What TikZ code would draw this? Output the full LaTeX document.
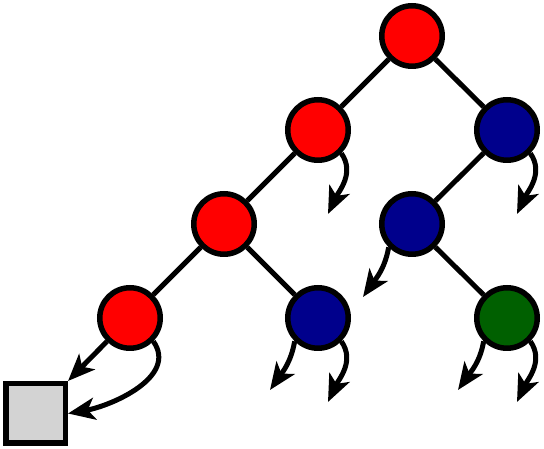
\documentclass[tikz,border=0pt]{standalone}
\usetikzlibrary{arrows.meta}
\definecolor{nred}{RGB}{255,0,0}
\definecolor{nblue}{RGB}{0,0,140}
\definecolor{ngreen}{RGB}{0,96,0}
\definecolor{ngray}{RGB}{211,211,211}
\begin{document}
\begin{tikzpicture}[x=1pt,y=1pt,
  nd/.style={circle,draw=black,line width=5.5pt,minimum size=60.5pt,inner sep=0pt},
  rednode/.style={nd,fill=nred},
  bluenode/.style={nd,fill=nblue},
  greennode/.style={nd,fill=ngreen},
  leaf/.style={rectangle,draw=black,line width=5.5pt,minimum size=59.5pt,inner sep=0pt,fill=ngray},
  edge/.style={line width=5pt},
  arr/.style={line width=5pt,arrows={-Stealth[length=27pt,width=22pt,inset=7pt]}}]
\useasboundingbox (0,0) rectangle (544,449);
\node[rednode] (root) at (412,413) {};
\node[rednode] (l1) at (318,319) {};
\node[bluenode] (r1) at (507,319) {};
\node[rednode] (l2) at (224,225) {};
\node[bluenode] (rl2) at (412,225) {};
\node[rednode] (l3) at (130,131) {};
\node[bluenode] (lr3) at (318,131) {};
\node[greennode] (g3) at (507,131) {};
\node[leaf] (sq) at (35.5,35.5) {};
\coordinate (e1) at (328,235);
\coordinate (e2) at (517,235);
\coordinate (e3) at (363,152);
\coordinate (e4) at (270,59);
\coordinate (e5) at (328,47);
\coordinate (e6) at (458,59);
\coordinate (e7) at (517,47);
\draw[edge] (root) -- (l1);
\draw[edge] (root) -- (r1);
\draw[edge] (l1) -- (l2);
\draw[edge] (r1) -- (rl2);
\draw[edge] (l2) -- (l3);
\draw[edge] (l2) -- (lr3);
\draw[edge] (rl2) -- (g3);
\draw[arr] (l1.-45) to[out=-55,in=65] (e1);
\draw[arr] (r1.-45) to[out=-55,in=65] (e2);
\draw[arr] (rl2.-135) to[out=-100,in=55] (e3);
\draw[arr] (lr3.-135) to[out=-100,in=55] (e4);
\draw[arr] (lr3.-45) to[out=-55,in=65] (e5);
\draw[arr] (g3.-135) to[out=-100,in=55] (e6);
\draw[arr] (g3.-45) to[out=-55,in=65] (e7);
\draw[arr] (l3) -- (sq.north east);
\draw[arr] (l3.-45) to[out=-55,in=10] (sq.east);
\end{tikzpicture}
\end{document}
